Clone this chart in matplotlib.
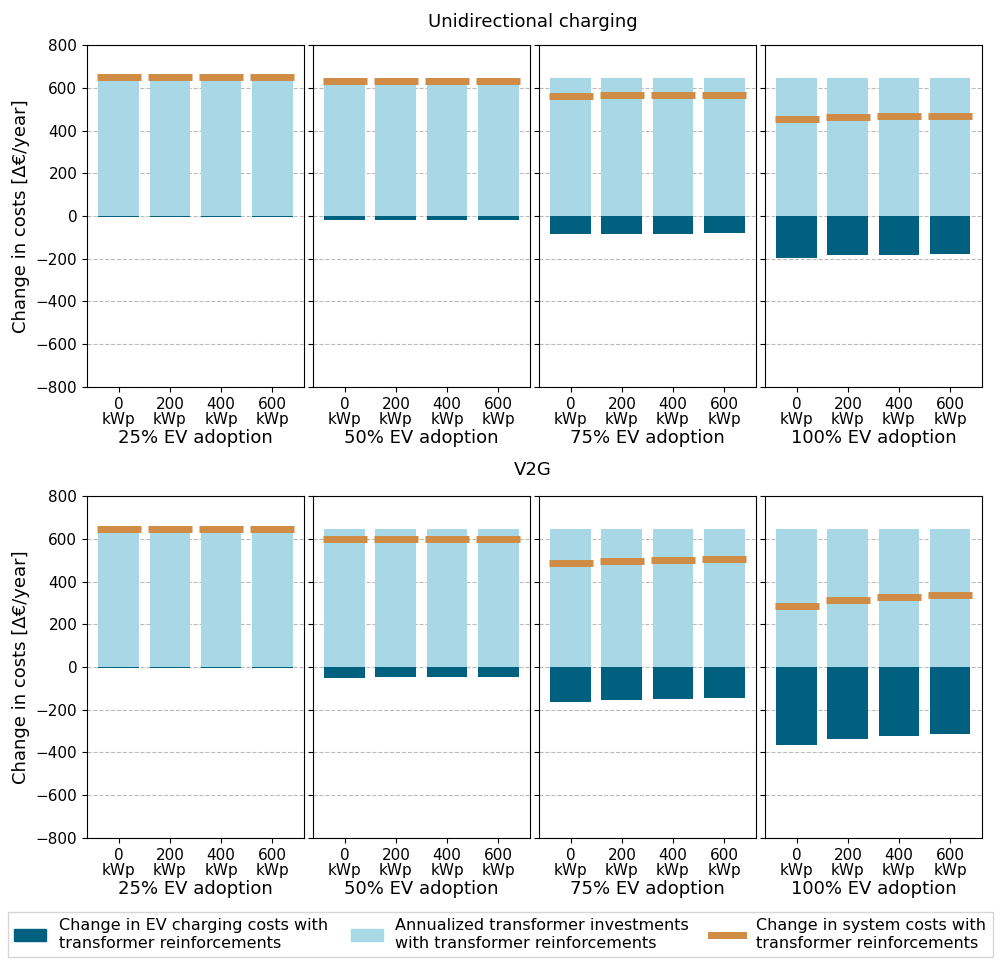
import numpy as np
import matplotlib.pyplot as plt
from matplotlib.patches import Patch
from matplotlib.lines import Line2D

# dados
pv_labels = ['0\nkWp', '200\nkWp', '400\nkWp', '600\nkWp']
adoption = ['25% EV adoption', '50% EV adoption', '75% EV adoption', '100% EV adoption']
row_titles = ['Unidirectional charging', 'V2G']

# investimentos anualizados no transformador (igual em todos)
transformer = [648, 648, 648, 648]

# variação nos custos de carregamento dos EV
ev_uni = [
    [-3, -3, -3, -3],
    [-20, -18, -17, -17],
    [-85, -82, -82, -80],
    [-195, -183, -181, -179],
]
ev_v2g = [
    [-3, -3, -3, -3],
    [-50, -48, -48, -48],
    [-165, -155, -150, -145],
    [-365, -335, -322, -315],
]
# variação nos custos do sistema
sys_uni = [
    [650, 650, 650, 650],
    [632, 633, 633, 633],
    [563, 566, 566, 568],
    [455, 465, 467, 470],
]
sys_v2g = [
    [647, 647, 647, 647],
    [598, 600, 600, 600],
    [485, 495, 500, 505],
    [286, 314, 328, 335],
]

dark = '#00607f'
light = '#a8d7e5'
orange = '#d08b45'

fig, axes = plt.subplots(2, 4, figsize=(10.05, 9.63), dpi=100, sharey=True,
                         gridspec_kw=dict(left=0.0866, right=0.977, top=0.953, bottom=0.13,
                                          wspace=0.042, hspace=0.32))

x = np.arange(len(pv_labels))
for r, (ev, sysc) in enumerate([(ev_uni, sys_uni), (ev_v2g, sys_v2g)]):
    for c in range(4):
        ax = axes[r, c]
        ax.set_axisbelow(True)
        ax.grid(axis='y', linestyle='--', color='#bbbbbb', linewidth=0.8)
        ax.bar(x, transformer, width=0.8, color=light)
        ax.bar(x, ev[c], width=0.8, color=dark)
        ax.hlines(sysc[c], x - 0.43, x + 0.43, color=orange, linewidth=5)
        ax.set_ylim(-800, 800)
        ax.set_yticks(np.arange(-800, 801, 200))
        ax.set_xticks(x)
        ax.set_xticklabels(pv_labels, fontsize=11, linespacing=1.0)
        ax.tick_params(axis='y', labelsize=11)
        ax.set_xlabel(adoption[c], fontsize=13, labelpad=2)
    axes[r, 0].set_ylabel('Change in costs [Δ€/year]', fontsize=13)

fig.text(0.53, 0.977, row_titles[0], ha='center', va='center', fontsize=13)
fig.text(0.53, 0.512, row_titles[1], ha='center', va='center', fontsize=13)

handles = [Patch(color=dark), Patch(color=light), Line2D([], [], color=orange, linewidth=5)]
labels = ['Change in EV charging costs with\ntransformer reinforcements',
          'Annualized transformer investments\nwith transformer reinforcements',
          'Change in system costs with\ntransformer reinforcements']
fig.legend(handles, labels, loc='upper left', bbox_to_anchor=(0.008, 0.053), ncol=3,
           fontsize=11.5, frameon=True, handlelength=2.0, columnspacing=1.4,
           borderaxespad=0, fancybox=False)

plt.savefig('out.png')
